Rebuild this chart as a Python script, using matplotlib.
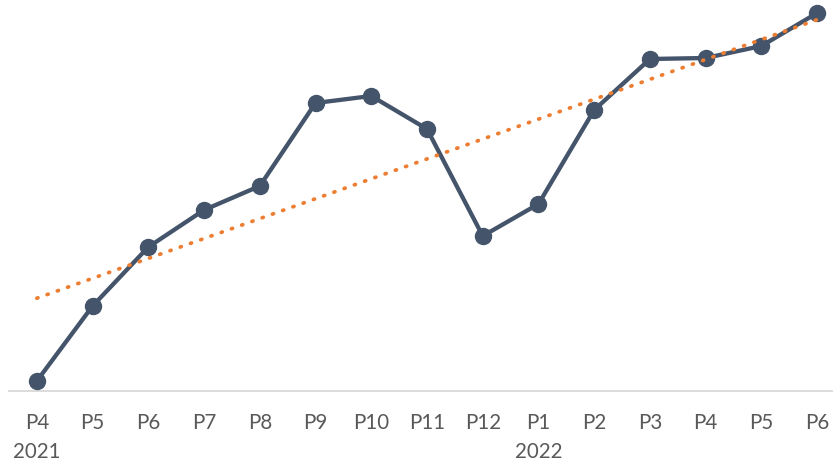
import numpy as np
import matplotlib
matplotlib.use("Agg")
import matplotlib.pyplot as plt
from matplotlib.transforms import blended_transform_factory

periods = ["P4", "P5", "P6", "P7", "P8", "P9", "P10", "P11", "P12",
           "P1", "P2", "P3", "P4", "P5", "P6"]
values = [10, 85, 144, 181, 205, 288, 295, 262, 155, 187, 281, 332, 333, 345, 378]
years = ["2021", "2022"]
year_start_idx = [0, 9]

series_color = "#44546a"
trend_color = "#ed7d31"
text_color = "#595959"

W, H = 833, 466
fig = plt.figure(figsize=(W / 100, H / 100), dpi=100)
ax = fig.add_axes([9 / W, 1 - 391 / H, 836 / W, 400 / H])

x = np.arange(len(values))
ax.plot(x, values, color=series_color, lw=3.1, marker="o", ms=11.5,
        mfc=series_color, mec=series_color, zorder=3, clip_on=False,
        solid_capstyle="round")

# linear trend line
slope, intercept = np.polyfit(x, values, 1)
ax.plot(x, slope * x + intercept, color=trend_color, lw=2.7,
        linestyle=(0, (0.3, 2.6)), dash_capstyle="round", zorder=4,
        clip_on=False)

ax.set_xlim(-0.5, len(values) - 0.5)
ax.set_ylim(0, 400)
ax.set_yticks([])
ax.set_xticks(x)
ax.set_xticklabels([])
for s in ["top", "right", "left"]:
    ax.spines[s].set_visible(False)
ax.spines["bottom"].set_color("#d9d9d9")
ax.spines["bottom"].set_linewidth(1.3)
ax.tick_params(axis="x", length=0)

trans = blended_transform_factory(ax.transData, fig.transFigure)
for i, label in enumerate(periods):
    ax.text(i, 1 - 423 / H, label, transform=trans, ha="center", va="center",
            fontsize=14.8, color=text_color, family="Lato")
for label, idx in zip(years, year_start_idx):
    ax.text(idx, 1 - 452 / H, label, transform=trans, ha="center", va="center",
            fontsize=14.8, color=text_color, family="Lato")

fig.savefig("out.png", dpi=100)
